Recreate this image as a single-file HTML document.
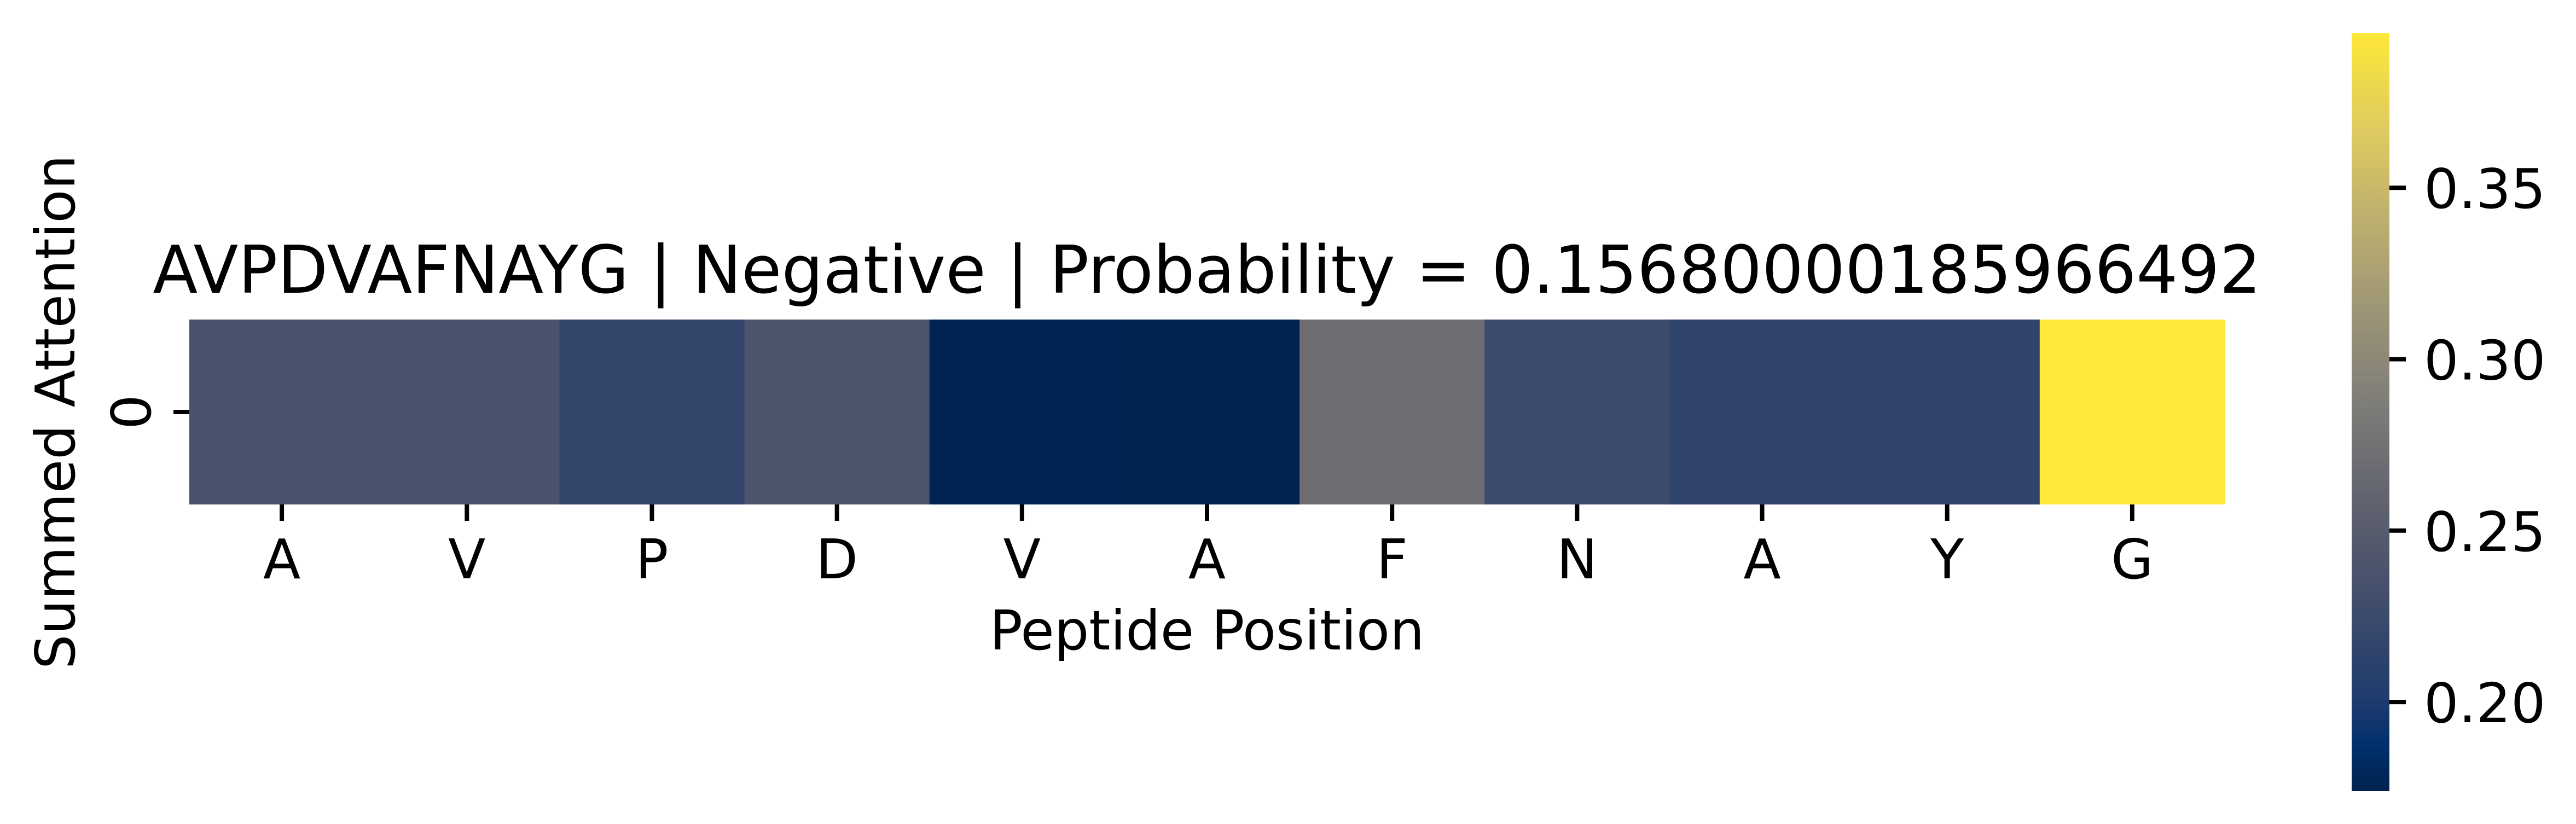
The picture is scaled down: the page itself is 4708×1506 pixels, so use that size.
<!DOCTYPE html>
<html><head><meta charset="utf-8"><style>
html,body{margin:0;padding:0;background:#fff;}
svg{display:block;font-family:"DejaVu Sans","Liberation Sans",sans-serif;}
</style></head><body>
<svg id="chart" width="4708" height="1506" viewBox="0 0 4708 1506" xmlns="http://www.w3.org/2000/svg">
<defs><linearGradient id="cbgrad" x1="0" y1="1" x2="0" y2="0"></linearGradient></defs>
<rect width="4708" height="1506" fill="#fff"/>
<text x="2206" y="535" font-size="120" text-anchor="middle" textLength="3853" lengthAdjust="spacingAndGlyphs">AVPDVAFNAYG | Negative | Probability = 0.15680000185966492</text>
<g id="cells"></g>
<g id="xaxis"></g>
<text x="2206" y="1187" font-size="100" text-anchor="middle">Peptide Position</text>
<line x1="317" y1="753" x2="346" y2="753" stroke="#000" stroke-width="8"/>
<text transform="translate(275,753) rotate(-90)" font-size="100" text-anchor="middle">0</text>
<text transform="translate(136,753) rotate(-90)" font-size="100" text-anchor="middle">Summed Attention</text>
<rect id="cbar" x="4298" y="60" width="69" height="1386" fill="url(#cbgrad)"/>
<g id="cbaxis"></g>
</svg>
<script>
const categories = ["A","V","P","D","V","A","F","N","A","Y","G"];
const values = [0.236, 0.238, 0.218, 0.239, 0.176, 0.175, 0.270, 0.225, 0.216, 0.216, 0.395];
const colorTicks = [0.20, 0.25, 0.30, 0.35];
const colorTickLabels = ["0.20", "0.25", "0.30", "0.35"];
const vmin = 0.174, vmax = 0.3952;

const NS = "http://www.w3.org/2000/svg";
const cividis = [[0,"#00224e"],[0.06,"#00306f"],[0.12,"#1f3b6d"],[0.25,"#414d6b"],[0.375,"#5f616e"],[0.5,"#7c7b78"],[0.625,"#9b9377"],[0.75,"#bcaf6f"],[0.875,"#dfcb5f"],[1,"#fee838"]];
function hex(h){return [1,3,5].map(i=>parseInt(h.substr(i,2),16));}
function cmap(t){
  t=Math.max(0,Math.min(1,t));
  for(let i=1;i<cividis.length;i++){
    if(t<=cividis[i][0]){
      const a=cividis[i-1],b=cividis[i];const f=(t-a[0])/(b[0]-a[0]);
      const ca=hex(a[1]),cb=hex(b[1]);
      return "rgb("+ca.map((v,k)=>Math.round(v+(cb[k]-v)*f)).join(",")+")";
    }
  }
  return cividis[cividis.length-1][1];
}
const plotL=346, plotR=4066, plotT=584, plotB=922;
const cellW=(plotR-plotL)/categories.length;
function xPos(i){return plotL+i*cellW;}
const cbT=60, cbB=1446;
function cbY(v){return cbB-(v-vmin)/(vmax-vmin)*(cbB-cbT);}

const grad=document.getElementById("cbgrad");
for(let i=0;i<=cividis.length-1;i++){
  const s=document.createElementNS(NS,"stop");
  s.setAttribute("offset",cividis[i][0]);s.setAttribute("stop-color",cividis[i][1]);
  grad.appendChild(s);
}
const cells=document.getElementById("cells"), xaxis=document.getElementById("xaxis");
values.forEach((v,i)=>{
  const r=document.createElementNS(NS,"rect");
  
  
  r.setAttribute("x",xPos(i));r.setAttribute("y",plotT);
  r.setAttribute("width",cellW+0.6);r.setAttribute("height",plotB-plotT);
  r.setAttribute("fill",cmap((v-vmin)/(vmax-vmin)));
  cells.appendChild(r);
  const cx=xPos(i)+cellW/2;
  const t=document.createElementNS(NS,"line");
  
  
  t.setAttribute("x1",cx);t.setAttribute("x2",cx);t.setAttribute("y1",plotB);t.setAttribute("y2",plotB+30);
  t.setAttribute("stroke","#000");t.setAttribute("stroke-width","8");
  xaxis.appendChild(t);
  const l=document.createElementNS(NS,"text");
  
  
  l.setAttribute("x",cx);l.setAttribute("y",1057);l.setAttribute("font-size","100");l.setAttribute("text-anchor","middle");
  l.textContent=categories[i];
  xaxis.appendChild(l);
});
const cbaxis=document.getElementById("cbaxis");
colorTicks.forEach((v,i)=>{
  const y=cbY(v);
  const t=document.createElementNS(NS,"line");
  
  
  t.setAttribute("x1",4367);t.setAttribute("x2",4397);t.setAttribute("y1",y);t.setAttribute("y2",y);
  t.setAttribute("stroke","#000");t.setAttribute("stroke-width","8");
  cbaxis.appendChild(t);
  const l=document.createElementNS(NS,"text");
  
  
  l.setAttribute("x",4430);l.setAttribute("y",y+37);l.setAttribute("font-size","100");
  l.textContent=colorTickLabels[i];
  cbaxis.appendChild(l);
});
</script>
</body></html>
